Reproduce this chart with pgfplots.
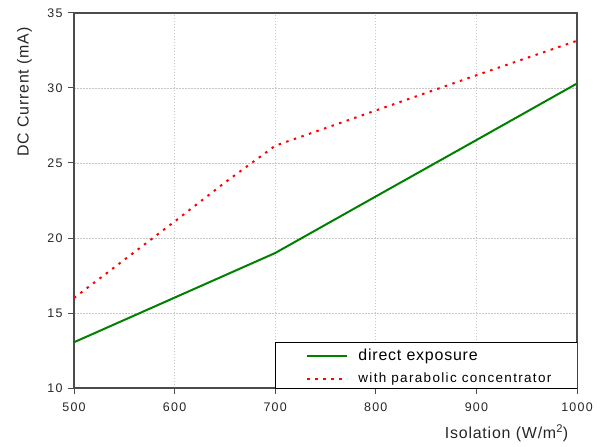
\documentclass[border=0pt]{standalone}
\usepackage{fontspec}
\setmainfont{Liberation Sans}
\newfontfamily\tickfont[LetterSpace=10]{Liberation Sans}
\newfontfamily\labfont[LetterSpace=5]{Liberation Sans}
\newfontfamily\legafont[LetterSpace=5]{Liberation Sans}
\newfontfamily\legbfont[LetterSpace=10]{Liberation Sans}
\usepackage{pgfplots}
\pgfplotsset{compat=1.18}
\definecolor{dgreen}{RGB}{0,128,0}
\begin{document}
\begin{tikzpicture}
\begin{axis}[
  scale only axis, width=503bp, height=375bp,
  xmin=500, xmax=1000, ymin=10, ymax=35,
  xtick={500,600,...,1000}, ytick={10,15,...,35},
  tick pos=left, tick align=outside, major tick length=6bp,
  /pgf/number format/assume math mode=true,
  /pgf/number format/1000 sep={},
  ticklabel style={font=\tickfont\fontsize{12.5}{14}\selectfont, text=black!85},
  xticklabel style={yshift=-5bp},
  yticklabel style={xshift=-2bp},
  grid=major,
  major grid style={draw=black!22, dash pattern=on 1.5bp off 1.5bp, line width=0.7bp},
  axis line style={draw=black!70, line width=1.2bp},
  major tick style={draw=black!70, line width=1bp},
  xlabel={Isolation (W/m\textsuperscript{2})},
  ylabel={DC Current (mA)},
  xlabel style={at={(axis description cs:0.860,-0.121)}, anchor=center, font=\labfont\fontsize{16}{18}\selectfont, text=black!85},
  ylabel style={at={(axis description cs:-0.0984,0.789)}, anchor=center, font=\labfont\fontsize{16}{18}\selectfont, text=black!85},
  legend image code/.code={\draw[#1] (0bp,0bp) -- (40bp,0bp);},
  legend cell align=left,
  legend style={at={(axis cs:700,13.07)}, anchor=north west, xshift=31bp, yshift=-6bp,
    draw=none, fill=none, inner sep=0pt, row sep=9bp,
    nodes={inner sep=1bp},
    /tikz/every odd column/.append style={column sep=9bp}},
]
\addplot[dgreen, line width=2bp] coordinates {
  (500,13.05) (700,19.0) (800,22.77) (900,26.53) (1000,30.3)
};
\addplot[red, line width=2bp, dash pattern=on 2.5bp off 5.5bp] coordinates {
  (500,16.0) (600,21.1) (650,23.7) (700,26.15) (800,28.5) (900,30.85) (1000,33.15)
};
\draw[black, line width=0.8bp, fill=white] (axis cs:700,10) rectangle (axis cs:1000,13.07);
\addlegendentry{\legafont\fontsize{16}{18}\selectfont direct exposure}
\addlegendentry{\legbfont\fontsize{13.5}{15}\selectfont with parabolic concentrator}
\end{axis}
\pgfresetboundingbox
\path[use as bounding box] (-74bp,-59bp) rectangle (530bp,388bp);
\end{tikzpicture}
\end{document}
